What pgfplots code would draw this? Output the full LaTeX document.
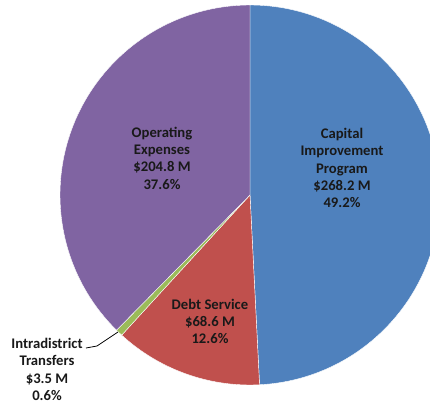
\documentclass[border=0pt]{standalone}
\usepackage{fontspec}
\setmainfont{Carlito}
\usepackage{pgfplots}
\pgfplotsset{compat=1.18}
\definecolor{cBlue}{HTML}{4F81BD}
\definecolor{cRed}{HTML}{C0504D}
\definecolor{cGreen}{HTML}{9BBB59}
\definecolor{cPurple}{HTML}{8064A2}
\begin{document}
\begin{tikzpicture}
\begin{axis}[
    width=322.5pt, height=303.75pt, scale only axis,
    hide axis,
    xmin=0, xmax=430, ymin=0, ymax=405,
  ]
  \clip (axis cs:0,0) rectangle (axis cs:430,405);
  % cumulative shares (percent), clockwise from the top
  \fill[cBlue, draw=white, line width=0.3pt] (axis cs:250,210) -- ++(90:142.5pt)
    arc[start angle=90, end angle={90-3.6*49.2}, radius=142.5pt] -- cycle;
  \fill[cRed, draw=white, line width=0.3pt] (axis cs:250,210) -- ++({90-3.6*49.2}:142.5pt)
    arc[start angle={90-3.6*49.2}, end angle={90-3.6*61.8}, radius=142.5pt] -- cycle;
  \fill[cGreen, draw=white, line width=0.3pt] (axis cs:250,210) -- ++({90-3.6*61.8}:142.5pt)
    arc[start angle={90-3.6*61.8}, end angle={90-3.6*62.4}, radius=142.5pt] -- cycle;
  \fill[cPurple, draw=white, line width=0.3pt] (axis cs:250,210) -- ++({90-3.6*62.4}:142.5pt)
    arc[start angle={90-3.6*62.4}, end angle=-270, radius=142.5pt] -- cycle;

  \draw[black, line width=0.6pt] (axis cs:86,57) -- (axis cs:97,59) -- (axis cs:118,73);

  \begin{scope}[every node/.style={align=center, font=\fontsize{11}{13}\selectfont\bfseries, text=black!90}]
    \node at (axis cs:342,237) {Capital\\Improvement\\Program\\\$268.2 M\\49.2\%};
    \node at (axis cs:162,247) {Operating\\Expenses\\\$204.8 M\\37.6\%};
    \node at (axis cs:210,83.5) {Debt Service\\\$68.6 M\\12.6\%};
    \node at (axis cs:47,35.5) {Intradistrict\\Transfers\\\$3.5 M\\0.6\%};
  \end{scope}
\end{axis}
\end{tikzpicture}
\end{document}
